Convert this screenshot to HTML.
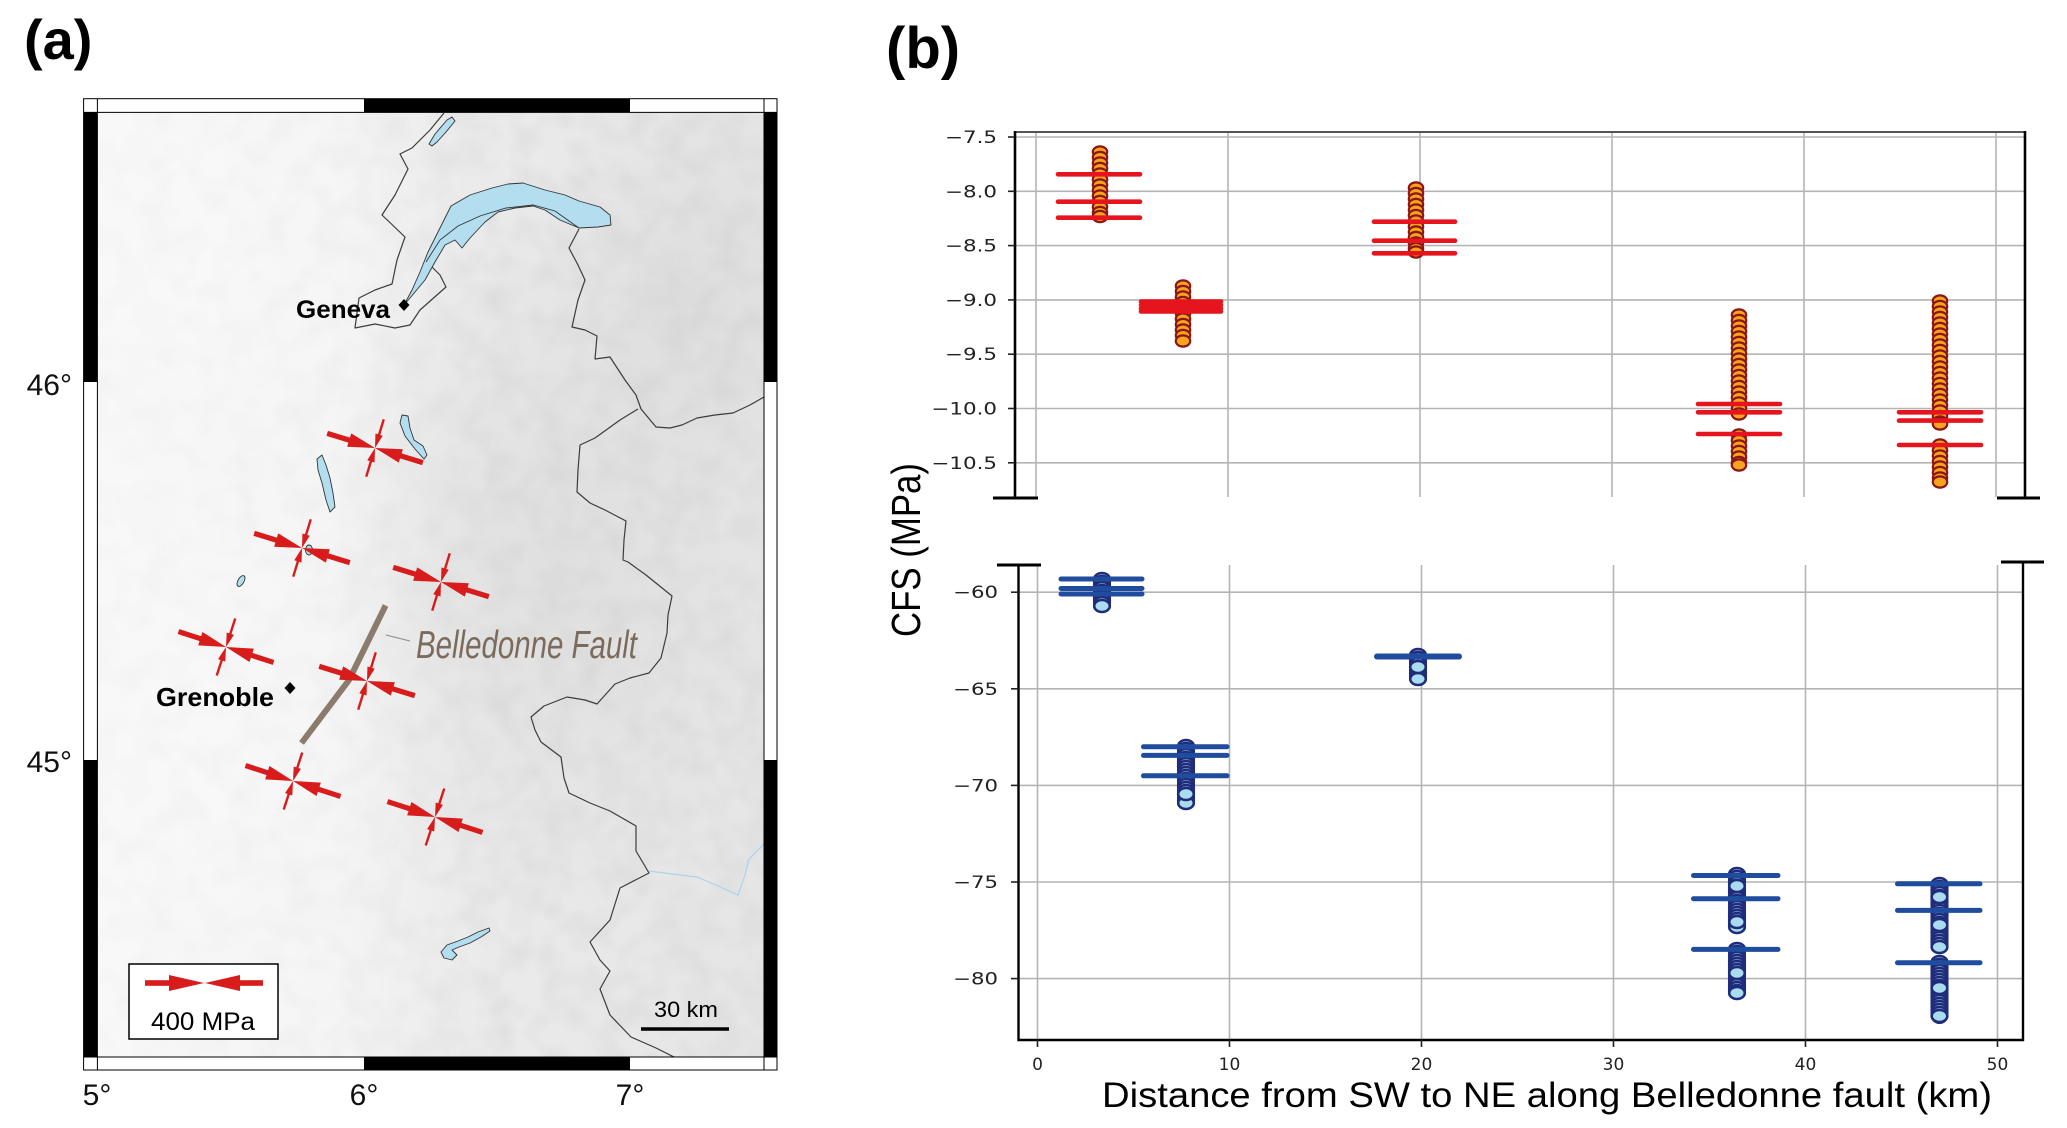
<!DOCTYPE html>
<html>
<head>
<meta charset="utf-8">
<style>
html,body{margin:0;padding:0;background:#fff;}
svg{display:block;}
</style>
</head>
<body>
<svg width="2067" height="1128" viewBox="0 0 2067 1128" xmlns="http://www.w3.org/2000/svg">
<defs>
  <clipPath id="mapclip"><rect x="97.4" y="112.4" width="666.6" height="944.6"/></clipPath>
  <linearGradient id="bgx" x1="0" y1="0" x2="1" y2="0">
    <stop offset="0" stop-color="#f8f8f8"/>
    <stop offset="0.35" stop-color="#f5f5f5"/>
    <stop offset="0.55" stop-color="#ebebeb"/>
    <stop offset="1" stop-color="#e5e5e5"/>
  </linearGradient>
  <linearGradient id="maskg" x1="0" y1="0" x2="1" y2="0">
    <stop offset="0" stop-color="#fff" stop-opacity="0.25"/>
    <stop offset="0.4" stop-color="#fff" stop-opacity="0.45"/>
    <stop offset="0.6" stop-color="#fff" stop-opacity="1"/>
    <stop offset="1" stop-color="#fff" stop-opacity="1"/>
  </linearGradient>
  <mask id="nmask" maskUnits="userSpaceOnUse" x="97.4" y="112.4" width="666.6" height="944.6">
    <rect x="97.4" y="112.4" width="666.6" height="944.6" fill="url(#maskg)"/>
  </mask>
  <radialGradient id="lightblob" cx="0.5" cy="0.5" r="0.5">
    <stop offset="0" stop-color="#f8f8f8" stop-opacity="0.9"/>
    <stop offset="1" stop-color="#f8f8f8" stop-opacity="0"/>
  </radialGradient>
  <radialGradient id="darkblob" cx="0.5" cy="0.5" r="0.5">
    <stop offset="0" stop-color="#d8d8d8" stop-opacity="0.6"/>
    <stop offset="1" stop-color="#d8d8d8" stop-opacity="0"/>
  </radialGradient>
  <filter id="noise" x="0" y="0" width="1" height="1">
    <feTurbulence type="fractalNoise" baseFrequency="0.035" numOctaves="2" seed="7"/>
    <feColorMatrix type="matrix" values="0 0 0 0 0.55  0 0 0 0 0.55  0 0 0 0 0.55  1.6 0 0 0 -0.62"/>
  </filter>
  <g id="ss" fill="#d81b1b">
    <rect x="-50" y="-2.6" width="26" height="5.2"/>
    <polygon points="-27,-7 0,0 -27,7"/>
    <rect x="24" y="-2.6" width="26" height="5.2"/>
    <polygon points="27,-7 0,0 27,7"/>
    <rect x="-1.2" y="-30" width="2.4" height="19"/>
    <polygon points="-3.8,-14 0,0 3.8,-14"/>
    <rect x="-1.2" y="11" width="2.4" height="19"/>
    <polygon points="-3.8,14 0,0 3.8,14"/>
  </g>
  <ellipse id="o" rx="7.2" ry="5.6" fill="#f6a41e" stroke="#8c1515" stroke-width="2.2"/>
  <ellipse id="c" rx="7.8" ry="6" fill="#a9dcef" stroke="#1f2c7c" stroke-width="2.6"/>
</defs>

<!-- ================= PANEL (a) ================= -->
<text x="24" y="59" font-family="Liberation Sans, sans-serif" font-weight="bold" font-size="56">(a)</text>

<g clip-path="url(#mapclip)">
  <rect x="97.4" y="112.4" width="666.6" height="944.6" fill="url(#bgx)"/>
  <ellipse cx="560" cy="560" rx="230" ry="380" fill="url(#darkblob)"/>
  <ellipse cx="700" cy="300" rx="160" ry="220" fill="url(#darkblob)"/>
  <ellipse cx="200" cy="700" rx="160" ry="260" fill="url(#lightblob)"/>
  <ellipse cx="200" cy="250" rx="200" ry="200" fill="url(#lightblob)"/>
  <g mask="url(#nmask)">
    <rect x="97.4" y="112.4" width="666.6" height="944.6" filter="url(#noise)" opacity="0.35"/>
  </g>

  <!-- borders -->
  <g fill="none" stroke="#3c3c3c" stroke-width="1.2" stroke-linejoin="round">
    <polyline points="444,113 430,130 412,148 400,154 408,169 395,195 382,215 405,237 397,260 392,284 375,290 359,298 355,328 375,324 395,328 410,325 420,310 446,287 440,275 431,266"/>
    <polyline points="579,229 569,248 578,265 585,280 578,300 572,327 585,330 597,336 595,359 610,357 625,380 636,395 641,409 656,427 670,428 682,425 697,418 715,415 733,413 750,405 764,397"/>
    <polyline points="638,409 620,420 595,438 580,445 578,470 577,492 590,503 605,510 626,521 624,540 623,560 628,562 646,575 672,596 668,615 667,633 661,658 649,673 630,678 615,684 597,704 585,700 567,697 544,706 531,717 535,730 541,742 561,757 564,778 569,793 590,803 610,811 636,826 636,851 649,873 620,888 610,920 590,942 600,960 610,971 600,989 610,1015 631,1037 656,1048 680,1060"/>
  </g>
  <polyline points="649,871 672,874 697,877 718,886 738,895 745,875 749,859 764,844" fill="none" stroke="#a8d4ec" stroke-width="1.2"/>

  <!-- lakes -->
  <g fill="#b3def0" stroke="#333" stroke-width="0.9" stroke-linejoin="round">
    <polygon points="404,305 412,290 420,272 428,252 440,228 451,206 470,195 492,188 508,184 523,183 545,190 565,195 579,201 600,207 610,215 611,225 598,227 579,228 560,220 545,210 533,206 515,208 498,212 485,222 470,238 462,248 455,240 445,245 435,262 425,280 410,298"/>
    <polygon points="452,117 455,121 446,132 437,142 432,146 429,144 435,134 447,120"/>
    <polygon points="402,415 408,416 410,428 414,440 423,446 427,455 424,459 415,449 405,436 400,423"/>
    <polygon points="317,459 322,455 326,465 330,478 333,493 335,507 330,512 326,500 322,483 318,470"/>
    <ellipse cx="241" cy="581" rx="3" ry="6" transform="rotate(30 241 581)"/>
    <ellipse cx="309" cy="550" rx="3.5" ry="5"/>
    <polygon points="489,928 478,932 468,937 458,941 447,945 441,952 444,958 452,960 457,955 452,950 459,947 470,943 481,937 490,931"/>
  </g>
  <polyline points="426,262 440,240 458,226 480,216 506,208 533,205 555,211 579,228" fill="none" stroke="#333" stroke-width="0.9"/>

  <!-- fault -->
  <polyline points="385.6,605.5 349,680 301.5,743" fill="none" stroke="#8a7b6c" stroke-width="6"/>
  <line x1="386" y1="635" x2="410" y2="641" stroke="#8a8a8a" stroke-width="1"/>
  <text x="416" y="658" font-family="Liberation Sans, sans-serif" font-style="italic" font-size="39" fill="#7b6b5c" textLength="221" lengthAdjust="spacingAndGlyphs">Belledonne Fault</text>

  <!-- stress symbols -->
  <use href="#ss" transform="translate(375,448) rotate(17)"/>
  <use href="#ss" transform="translate(302,548) rotate(17)"/>
  <use href="#ss" transform="translate(441,582) rotate(17)"/>
  <use href="#ss" transform="translate(226,647) rotate(18)"/>
  <use href="#ss" transform="translate(367,681) rotate(17)"/>
  <use href="#ss" transform="translate(293,781) rotate(18)"/>
  <use href="#ss" transform="translate(435,817) rotate(18)"/>

  <!-- cities -->
  <polygon points="404,299 409.5,305 404,311 398.5,305" fill="#000"/>
  <text x="390" y="318" text-anchor="end" font-family="Liberation Sans, sans-serif" font-weight="bold" font-size="25" textLength="94" lengthAdjust="spacingAndGlyphs">Geneva</text>
  <polygon points="290,682 295.5,688 290,694 284.5,688" fill="#000"/>
  <text x="156" y="706" font-family="Liberation Sans, sans-serif" font-weight="bold" font-size="26" textLength="118" lengthAdjust="spacingAndGlyphs">Grenoble</text>

  <!-- legend -->
  <rect x="129" y="964" width="149" height="75" fill="#fff" stroke="#000" stroke-width="1.5"/>
  <g fill="#d81b1b">
    <rect x="145" y="980.2" width="26" height="5.6"/>
    <polygon points="169,975 204,983 169,991"/>
    <rect x="238" y="980.2" width="25" height="5.6"/>
    <polygon points="240,975 205,983 240,991"/>
  </g>
  <text x="203" y="1030" text-anchor="middle" font-family="Liberation Sans, sans-serif" font-size="25" textLength="104" lengthAdjust="spacingAndGlyphs">400 MPa</text>

  <!-- scale bar -->
  <text x="686" y="1017" text-anchor="middle" font-family="Liberation Sans, sans-serif" font-size="22" textLength="64" lengthAdjust="spacingAndGlyphs">30 km</text>
  <line x1="641" y1="1029" x2="729" y2="1029" stroke="#000" stroke-width="3.5"/>
</g>

<!-- map frame -->
<g>
  <rect x="83.6" y="98.7" width="693.4" height="971.3" fill="none" stroke="#000" stroke-width="1"/>
  <line x1="97.4" y1="98.7" x2="97.4" y2="1070" stroke="#000" stroke-width="1"/>
  <line x1="764" y1="98.7" x2="764" y2="1070" stroke="#000" stroke-width="1"/>
  <line x1="83.6" y1="112.4" x2="777" y2="112.4" stroke="#000" stroke-width="1"/>
  <line x1="83.6" y1="1057" x2="777" y2="1057" stroke="#000" stroke-width="1"/>
  <rect x="364" y="98.7" width="266" height="13.7" fill="#000"/>
  <rect x="364" y="1057" width="266" height="13" fill="#000"/>
  <rect x="83.6" y="112.4" width="13.8" height="269.6" fill="#000"/>
  <rect x="83.6" y="760" width="13.8" height="297" fill="#000"/>
  <rect x="764" y="112.4" width="13" height="269.6" fill="#000"/>
  <rect x="764" y="760" width="13" height="297" fill="#000"/>
</g>
<g font-family="Liberation Sans, sans-serif" font-size="30" fill="#111">
  <text x="72" y="395" text-anchor="end">46°</text>
  <text x="72" y="772" text-anchor="end">45°</text>
  <text x="97" y="1105" text-anchor="middle">5°</text>
  <text x="364" y="1105" text-anchor="middle">6°</text>
  <text x="630" y="1105" text-anchor="middle">7°</text>
</g>

<!-- ================= PANEL (b) ================= -->
<text x="886" y="68" font-family="Liberation Sans, sans-serif" font-weight="bold" font-size="58">(b)</text>

<!-- upper panel grid -->
<g stroke="#b4b4b4" stroke-width="1.6">
  <line x1="1015" y1="137" x2="2025" y2="137"/>
  <line x1="1015" y1="191.3" x2="2025" y2="191.3"/>
  <line x1="1015" y1="245.6" x2="2025" y2="245.6"/>
  <line x1="1015" y1="299.9" x2="2025" y2="299.9"/>
  <line x1="1015" y1="354.2" x2="2025" y2="354.2"/>
  <line x1="1015" y1="408.5" x2="2025" y2="408.5"/>
  <line x1="1015" y1="462.8" x2="2025" y2="462.8"/>
  <line x1="1036" y1="132" x2="1036" y2="497"/>
  <line x1="1228" y1="132" x2="1228" y2="497"/>
  <line x1="1420" y1="132" x2="1420" y2="497"/>
  <line x1="1612" y1="132" x2="1612" y2="497"/>
  <line x1="1804" y1="132" x2="1804" y2="497"/>
  <line x1="1996" y1="132" x2="1996" y2="497"/>
</g>
<line x1="1015" y1="132" x2="2025" y2="132" stroke="#555" stroke-width="2"/>
<g stroke="#000" stroke-width="2.6">
  <line x1="1015" y1="131" x2="1015" y2="498"/>
  <line x1="993" y1="498" x2="1038" y2="498" stroke-width="3"/>
  <line x1="2025" y1="131" x2="2025" y2="498"/>
  <line x1="1997" y1="498" x2="2040" y2="498" stroke-width="3"/>
</g>
<g stroke="#222" stroke-width="1.6">
  <line x1="1008" y1="137" x2="1015" y2="137"/>
  <line x1="1008" y1="191.3" x2="1015" y2="191.3"/>
  <line x1="1008" y1="245.6" x2="1015" y2="245.6"/>
  <line x1="1008" y1="299.9" x2="1015" y2="299.9"/>
  <line x1="1008" y1="354.2" x2="1015" y2="354.2"/>
  <line x1="1008" y1="408.5" x2="1015" y2="408.5"/>
  <line x1="1008" y1="462.8" x2="1015" y2="462.8"/>
</g>
<g font-family="DejaVu Sans, sans-serif" font-size="17" fill="#222" text-anchor="end">
  <text transform="translate(997,143) scale(1.26,1)">−7.5</text>
  <text transform="translate(997,197.3) scale(1.26,1)">−8.0</text>
  <text transform="translate(997,251.6) scale(1.26,1)">−8.5</text>
  <text transform="translate(997,305.9) scale(1.26,1)">−9.0</text>
  <text transform="translate(997,360.2) scale(1.26,1)">−9.5</text>
  <text transform="translate(997,414.5) scale(1.26,1)">−10.0</text>
  <text transform="translate(997,468.8) scale(1.26,1)">−10.5</text>
</g>

<!-- upper data -->
<g fill="#8c1515">
  <rect x="1092.5" y="146" width="15" height="77" rx="7"/>
  <rect x="1175.5" y="280" width="15" height="67" rx="7"/>
  <rect x="1408.5" y="182" width="15" height="76" rx="7"/>
  <rect x="1731.5" y="309" width="15" height="111" rx="7"/>
  <rect x="1731.5" y="429" width="15" height="42" rx="7"/>
  <rect x="1932.5" y="295" width="15" height="135" rx="7"/>
  <rect x="1932.5" y="439" width="15" height="49" rx="7"/>
</g>
<g>
  <use href="#o" x="1100" y="152"/><use href="#o" x="1100" y="157.5"/><use href="#o" x="1100" y="163"/><use href="#o" x="1100" y="168.5"/><use href="#o" x="1100" y="174"/><use href="#o" x="1100" y="179.5"/><use href="#o" x="1100" y="185"/><use href="#o" x="1100" y="190.5"/><use href="#o" x="1100" y="196"/><use href="#o" x="1100" y="201.5"/><use href="#o" x="1100" y="207"/><use href="#o" x="1100" y="212.5"/><use href="#o" x="1100" y="216.5"/>
  <use href="#o" x="1183" y="286"/><use href="#o" x="1183" y="291.5"/><use href="#o" x="1183" y="297"/><use href="#o" x="1183" y="302.5"/><use href="#o" x="1183" y="308"/><use href="#o" x="1183" y="313.5"/><use href="#o" x="1183" y="319"/><use href="#o" x="1183" y="324.5"/><use href="#o" x="1183" y="330"/><use href="#o" x="1183" y="335.5"/><use href="#o" x="1183" y="341"/>
  <use href="#o" x="1416" y="188"/><use href="#o" x="1416" y="193.5"/><use href="#o" x="1416" y="199"/><use href="#o" x="1416" y="204.5"/><use href="#o" x="1416" y="210"/><use href="#o" x="1416" y="215.5"/><use href="#o" x="1416" y="221"/><use href="#o" x="1416" y="226.5"/><use href="#o" x="1416" y="232"/><use href="#o" x="1416" y="237.5"/><use href="#o" x="1416" y="243"/><use href="#o" x="1416" y="248.5"/><use href="#o" x="1416" y="252"/>
  <use href="#o" x="1739" y="315"/><use href="#o" x="1739" y="320.5"/><use href="#o" x="1739" y="326"/><use href="#o" x="1739" y="331.5"/><use href="#o" x="1739" y="337"/><use href="#o" x="1739" y="342.5"/><use href="#o" x="1739" y="348"/><use href="#o" x="1739" y="353.5"/><use href="#o" x="1739" y="359"/><use href="#o" x="1739" y="364.5"/><use href="#o" x="1739" y="370"/><use href="#o" x="1739" y="375.5"/><use href="#o" x="1739" y="381"/><use href="#o" x="1739" y="386.5"/><use href="#o" x="1739" y="392"/><use href="#o" x="1739" y="397.5"/><use href="#o" x="1739" y="403"/><use href="#o" x="1739" y="408.5"/><use href="#o" x="1739" y="414"/>
  <use href="#o" x="1739" y="435"/><use href="#o" x="1739" y="440.5"/><use href="#o" x="1739" y="446"/><use href="#o" x="1739" y="451.5"/><use href="#o" x="1739" y="457"/><use href="#o" x="1739" y="462.5"/><use href="#o" x="1739" y="465"/>
  <use href="#o" x="1940" y="301"/><use href="#o" x="1940" y="306.5"/><use href="#o" x="1940" y="312"/><use href="#o" x="1940" y="317.5"/><use href="#o" x="1940" y="323"/><use href="#o" x="1940" y="328.5"/><use href="#o" x="1940" y="334"/><use href="#o" x="1940" y="339.5"/><use href="#o" x="1940" y="345"/><use href="#o" x="1940" y="350.5"/><use href="#o" x="1940" y="356"/><use href="#o" x="1940" y="361.5"/><use href="#o" x="1940" y="367"/><use href="#o" x="1940" y="372.5"/><use href="#o" x="1940" y="378"/><use href="#o" x="1940" y="383.5"/><use href="#o" x="1940" y="389"/><use href="#o" x="1940" y="394.5"/><use href="#o" x="1940" y="400"/><use href="#o" x="1940" y="405.5"/><use href="#o" x="1940" y="411"/><use href="#o" x="1940" y="416.5"/><use href="#o" x="1940" y="422"/><use href="#o" x="1940" y="424"/>
  <use href="#o" x="1940" y="445"/><use href="#o" x="1940" y="450.5"/><use href="#o" x="1940" y="456"/><use href="#o" x="1940" y="461.5"/><use href="#o" x="1940" y="467"/><use href="#o" x="1940" y="472.5"/><use href="#o" x="1940" y="478"/><use href="#o" x="1940" y="482"/>
</g>
<g stroke="#e6141d" stroke-width="4.6" stroke-linecap="round">
  <line x1="1058" y1="174.3" x2="1140" y2="174.3"/>
  <line x1="1058" y1="201.7" x2="1140" y2="201.7"/>
  <line x1="1058" y1="217.7" x2="1140" y2="217.7"/>
  <line x1="1141" y1="301.5" x2="1221" y2="301.5"/>
  <line x1="1141" y1="305" x2="1221" y2="305"/>
  <line x1="1141" y1="308.5" x2="1221" y2="308.5"/>
  <line x1="1141" y1="311.5" x2="1221" y2="311.5"/>
  <line x1="1374" y1="221.7" x2="1455" y2="221.7"/>
  <line x1="1374" y1="240.7" x2="1455" y2="240.7"/>
  <line x1="1374" y1="253.3" x2="1455" y2="253.3"/>
  <line x1="1698" y1="404" x2="1780" y2="404"/>
  <line x1="1698" y1="412.3" x2="1780" y2="412.3"/>
  <line x1="1698" y1="434" x2="1780" y2="434"/>
  <line x1="1899" y1="412.3" x2="1981" y2="412.3"/>
  <line x1="1899" y1="420.6" x2="1981" y2="420.6"/>
  <line x1="1899" y1="445" x2="1981" y2="445"/>
</g>

<!-- lower panel grid -->
<g stroke="#b4b4b4" stroke-width="1.6">
  <line x1="1018.5" y1="592.2" x2="2023" y2="592.2"/>
  <line x1="1018.5" y1="688.8" x2="2023" y2="688.8"/>
  <line x1="1018.5" y1="785.4" x2="2023" y2="785.4"/>
  <line x1="1018.5" y1="882" x2="2023" y2="882"/>
  <line x1="1018.5" y1="978.6" x2="2023" y2="978.6"/>
  <line x1="1037.5" y1="565" x2="1037.5" y2="1040"/>
  <line x1="1229.5" y1="565" x2="1229.5" y2="1040"/>
  <line x1="1421.5" y1="565" x2="1421.5" y2="1040"/>
  <line x1="1613.5" y1="565" x2="1613.5" y2="1040"/>
  <line x1="1805.5" y1="565" x2="1805.5" y2="1040"/>
  <line x1="1997.5" y1="565" x2="1997.5" y2="1040"/>
</g>
<g stroke="#000" stroke-width="2.4">
  <line x1="1018.5" y1="565" x2="1018.5" y2="1041"/>
  <line x1="997" y1="565" x2="1041" y2="565" stroke-width="3"/>
  <line x1="2023" y1="562" x2="2023" y2="1041"/>
  <line x1="2001" y1="562" x2="2044" y2="562" stroke-width="3"/>
  <line x1="1017.5" y1="1040" x2="2024" y2="1040"/>
</g>
<g stroke="#222" stroke-width="1.6">
  <line x1="1011" y1="592.2" x2="1018.5" y2="592.2"/>
  <line x1="1011" y1="688.8" x2="1018.5" y2="688.8"/>
  <line x1="1011" y1="785.4" x2="1018.5" y2="785.4"/>
  <line x1="1011" y1="882" x2="1018.5" y2="882"/>
  <line x1="1011" y1="978.6" x2="1018.5" y2="978.6"/>
  <line x1="1037.5" y1="1040" x2="1037.5" y2="1047"/>
  <line x1="1229.5" y1="1040" x2="1229.5" y2="1047"/>
  <line x1="1421.5" y1="1040" x2="1421.5" y2="1047"/>
  <line x1="1613.5" y1="1040" x2="1613.5" y2="1047"/>
  <line x1="1805.5" y1="1040" x2="1805.5" y2="1047"/>
  <line x1="1997.5" y1="1040" x2="1997.5" y2="1047"/>
</g>
<g font-family="DejaVu Sans, sans-serif" font-size="17" fill="#222" text-anchor="end">
  <text transform="translate(998,598.2) scale(1.25,1)">−60</text>
  <text transform="translate(998,694.8) scale(1.25,1)">−65</text>
  <text transform="translate(998,791.4) scale(1.25,1)">−70</text>
  <text transform="translate(998,888) scale(1.25,1)">−75</text>
  <text transform="translate(998,984.6) scale(1.25,1)">−80</text>
</g>
<g font-family="DejaVu Sans, sans-serif" font-size="17" fill="#222" text-anchor="middle">
  <text x="1037.5" y="1070">0</text>
  <text x="1229.5" y="1070">10</text>
  <text x="1421.5" y="1070">20</text>
  <text x="1613.5" y="1070">30</text>
  <text x="1805.5" y="1070">40</text>
  <text x="1997.5" y="1070">50</text>
</g>

<!-- lower data -->
<g fill="#1f2c7c">
  <rect x="1093.5" y="573" width="17" height="39" rx="8"/>
  <rect x="1177.5" y="740" width="17" height="70" rx="8"/>
  <rect x="1409.5" y="649" width="17" height="37" rx="8"/>
  <rect x="1728.5" y="868" width="17" height="65" rx="8"/>
  <rect x="1728.5" y="943" width="17" height="56" rx="8"/>
  <rect x="1931" y="878" width="17" height="76" rx="8"/>
  <rect x="1931" y="956" width="17" height="68" rx="8"/>
</g>
<g>
  <use href="#c" x="1102" y="579"/><use href="#c" x="1102" y="582"/><use href="#c" x="1102" y="585"/><use href="#c" x="1102" y="588"/><use href="#c" x="1102" y="591"/><use href="#c" x="1102" y="594"/><use href="#c" x="1102" y="597"/><use href="#c" x="1102" y="600"/><use href="#c" x="1102" y="603"/><use href="#c" x="1102" y="606"/>
  <use href="#c" x="1186" y="746"/><use href="#c" x="1186" y="749"/><use href="#c" x="1186" y="752"/><use href="#c" x="1186" y="755"/><use href="#c" x="1186" y="758"/><use href="#c" x="1186" y="761"/><use href="#c" x="1186" y="764"/><use href="#c" x="1186" y="767"/><use href="#c" x="1186" y="770"/><use href="#c" x="1186" y="773"/><use href="#c" x="1186" y="776"/><use href="#c" x="1186" y="779"/><use href="#c" x="1186" y="782"/><use href="#c" x="1186" y="785"/><use href="#c" x="1186" y="788"/><use href="#c" x="1186" y="791"/><use href="#c" x="1186" y="794"/><use href="#c" x="1186" y="797"/><use href="#c" x="1186" y="800"/><use href="#c" x="1186" y="803"/><use href="#c" x="1186" y="794"/>
  <use href="#c" x="1418" y="655"/><use href="#c" x="1418" y="658"/><use href="#c" x="1418" y="661"/><use href="#c" x="1418" y="664"/><use href="#c" x="1418" y="667"/><use href="#c" x="1418" y="670"/><use href="#c" x="1418" y="673"/><use href="#c" x="1418" y="676"/><use href="#c" x="1418" y="679"/><use href="#c" x="1418" y="667"/>
  <use href="#c" x="1737" y="874"/><use href="#c" x="1737" y="877"/><use href="#c" x="1737" y="880"/><use href="#c" x="1737" y="883"/><use href="#c" x="1737" y="886"/><use href="#c" x="1737" y="889"/><use href="#c" x="1737" y="892"/><use href="#c" x="1737" y="895"/><use href="#c" x="1737" y="898"/><use href="#c" x="1737" y="901"/><use href="#c" x="1737" y="904"/><use href="#c" x="1737" y="907"/><use href="#c" x="1737" y="910"/><use href="#c" x="1737" y="913"/><use href="#c" x="1737" y="916"/><use href="#c" x="1737" y="919"/><use href="#c" x="1737" y="922"/><use href="#c" x="1737" y="925"/><use href="#c" x="1737" y="927"/><use href="#c" x="1737" y="886"/><use href="#c" x="1737" y="922"/>
  <use href="#c" x="1737" y="949"/><use href="#c" x="1737" y="952"/><use href="#c" x="1737" y="955"/><use href="#c" x="1737" y="958"/><use href="#c" x="1737" y="961"/><use href="#c" x="1737" y="964"/><use href="#c" x="1737" y="967"/><use href="#c" x="1737" y="970"/><use href="#c" x="1737" y="973"/><use href="#c" x="1737" y="976"/><use href="#c" x="1737" y="979"/><use href="#c" x="1737" y="982"/><use href="#c" x="1737" y="985"/><use href="#c" x="1737" y="988"/><use href="#c" x="1737" y="991"/><use href="#c" x="1737" y="993"/><use href="#c" x="1737" y="973"/>
  <use href="#c" x="1939.5" y="884"/><use href="#c" x="1939.5" y="887"/><use href="#c" x="1939.5" y="890"/><use href="#c" x="1939.5" y="893"/><use href="#c" x="1939.5" y="896"/><use href="#c" x="1939.5" y="899"/><use href="#c" x="1939.5" y="902"/><use href="#c" x="1939.5" y="905"/><use href="#c" x="1939.5" y="908"/><use href="#c" x="1939.5" y="911"/><use href="#c" x="1939.5" y="914"/><use href="#c" x="1939.5" y="917"/><use href="#c" x="1939.5" y="920"/><use href="#c" x="1939.5" y="923"/><use href="#c" x="1939.5" y="926"/><use href="#c" x="1939.5" y="929"/><use href="#c" x="1939.5" y="932"/><use href="#c" x="1939.5" y="935"/><use href="#c" x="1939.5" y="938"/><use href="#c" x="1939.5" y="941"/><use href="#c" x="1939.5" y="944"/><use href="#c" x="1939.5" y="947"/><use href="#c" x="1939.5" y="897"/><use href="#c" x="1939.5" y="925"/>
  <use href="#c" x="1939.5" y="962"/><use href="#c" x="1939.5" y="965"/><use href="#c" x="1939.5" y="968"/><use href="#c" x="1939.5" y="971"/><use href="#c" x="1939.5" y="974"/><use href="#c" x="1939.5" y="977"/><use href="#c" x="1939.5" y="980"/><use href="#c" x="1939.5" y="983"/><use href="#c" x="1939.5" y="986"/><use href="#c" x="1939.5" y="989"/><use href="#c" x="1939.5" y="992"/><use href="#c" x="1939.5" y="995"/><use href="#c" x="1939.5" y="998"/><use href="#c" x="1939.5" y="1001"/><use href="#c" x="1939.5" y="1004"/><use href="#c" x="1939.5" y="1007"/><use href="#c" x="1939.5" y="1010"/><use href="#c" x="1939.5" y="1013"/><use href="#c" x="1939.5" y="1016"/><use href="#c" x="1939.5" y="988"/>
</g>
<g stroke="#1f4c9c" stroke-width="5" stroke-linecap="round">
  <line x1="1061" y1="579" x2="1142" y2="579"/>
  <line x1="1061" y1="588.5" x2="1142" y2="588.5"/>
  <line x1="1061" y1="594" x2="1142" y2="594"/>
  <line x1="1143.5" y1="746.7" x2="1227" y2="746.7"/>
  <line x1="1143.5" y1="755.4" x2="1227" y2="755.4"/>
  <line x1="1143.5" y1="775.8" x2="1227" y2="775.8"/>
  <line x1="1377" y1="656.5" x2="1459" y2="656.5" stroke-width="6"/>
  <line x1="1693.5" y1="875.5" x2="1778" y2="875.5"/>
  <line x1="1693.5" y1="898.7" x2="1778" y2="898.7"/>
  <line x1="1693.5" y1="949.4" x2="1778" y2="949.4"/>
  <line x1="1897.5" y1="883.8" x2="1980" y2="883.8"/>
  <line x1="1897.5" y1="910.4" x2="1980" y2="910.4"/>
  <line x1="1897.5" y1="962.7" x2="1980" y2="962.7"/>
</g>

<!-- axis labels -->
<text x="1102" y="1107" font-family="Liberation Sans, sans-serif" font-size="35" fill="#000" textLength="890" lengthAdjust="spacingAndGlyphs">Distance from SW to NE along Belledonne fault (km)</text>
<text transform="translate(920,637) rotate(-90)" font-family="Liberation Sans, sans-serif" font-size="41" fill="#000" textLength="174" lengthAdjust="spacingAndGlyphs">CFS (MPa)</text>
</svg>
</body>
</html>
